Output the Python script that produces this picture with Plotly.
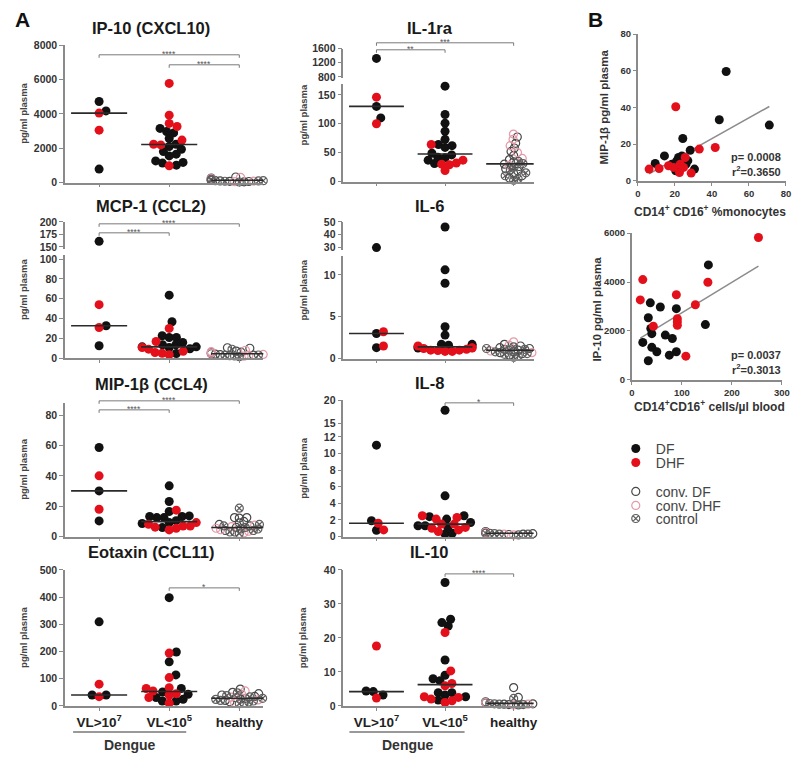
import math
import numpy as np
import plotly.graph_objects as go

# ===================== DATA =====================
CATEGORIES = ['VL&gt;10<sup>7</sup>', 'VL&lt;10<sup>5</sup>', 'healthy']

# IP-10 (CXCL10), pg/ml
ip10_hi_df = [4720, 4170, 780]
ip10_hi_dhf = [4040, 3050]
ip10_lo_df = [3150, 2890, 2970, 2560, 2100, 1800, 2230, 1940, 1650, 1260, 1130, 1010, 1170, 1550]
ip10_lo_dhf = [5770, 3920, 3440, 3260, 2470, 2230, 2190, 970]
ip10_h_cdf = [40, 70, 95, 120, 150, 180, 210, 260, 320, 110, 60, 140]
ip10_h_cdhf = [85, 130, 170, 230, 300, 50]
ip10_h_ctrl = [30, 75, 105, 160, 190, 250, 120, 90, 145]

# MCP-1 (CCL2)
mcp1_hi_df = [161, 32.7, 12.5]
mcp1_hi_dhf = [54, 31]
mcp1_lo_df = [63.6, 36.7, 20.9, 20.9, 22.6, 15.8, 11.4, 13.5, 10.8, 13.5, 11.4, 4.7, 9.5]
mcp1_lo_dhf = [30, 16.8, 10.8, 9.1, 5.7, 5, 7, 3.5]
mcp1_h_cdf = [10, 10.5, 7, 5.5, 4.5, 3.5, 3, 2.5, 6, 4]
mcp1_h_cdhf = [8, 5, 3.8, 2.8, 2, 6.5]
mcp1_h_ctrl = [9, 6, 4.8, 4.2, 3.2, 2.2, 1.5, 5.2, 3]

# MIP-1beta (CCL4)
mip_hi_df = [58.7, 30.1, 10.3]
mip_hi_dhf = [40, 18]
mip_lo_df = [33.4, 23.1, 16.5, 13.2, 12.5, 12.5, 13.2, 13.6, 8.6, 5.9, 9.2, 10.5]
mip_lo_dhf = [17.4, 9.2, 7, 5.5, 4.4, 7, 8.1, 6.2]
mip_h_cdf = [12.5, 12.5, 12.2, 10, 8, 7, 6, 5, 4, 3, 9]
mip_h_cdhf = [6.5, 5.5, 4.5, 3.5, 7.5, 2.5]
mip_h_ctrl = [18.7, 6, 5, 4, 7, 3, 8, 2]

# Eotaxin (CCL11)
eot_hi_df = [309, 40, 40]
eot_hi_dhf = [80, 34]
eot_lo_df = [398, 198, 162, 114, 64, 51, 43, 18, 18, 31, 24]
eot_lo_dhf = [194, 104, 64, 67, 55, 40, 31, 10, 45]
eot_h_cdf = [62, 50, 45, 40, 35, 30, 25, 20, 15, 10, 28]
eot_h_cdhf = [55, 42, 32, 22, 12]
eot_h_ctrl = [48, 38, 28, 20, 18, 14, 8, 24, 33]

# IL-1ra
il1_hi_df = [1320, 130, 110]
il1_hi_dhf = [146, 100]
il1_lo_df = [165, 116, 101, 87, 73, 64, 59, 62, 37, 46, 42, 41, 31, 49]
il1_lo_dhf = [64, 29, 19, 32, 30, 37]
il1_h_cdf = [77, 66, 58, 52, 45, 38, 34, 30, 26, 22, 18, 14, 10, 6]
il1_h_cdhf = [82, 73, 62, 50, 40, 28]
il1_h_ctrl = [35, 31, 25, 20, 15, 10, 5, 2]

# IL-6
il6_hi_df = [30, 3.0, 1.3]
il6_hi_dhf = [3.2, 1.5]
il6_lo_df = [46, 10.6, 9.0, 3.8, 2.8, 1.7, 1.25, 1.5, 1.7, 1.6, 1.4]
il6_lo_dhf = [1.5, 1.25, 1.0, 0.85, 0.85, 1.0, 1.1, 1.3, 0.95, 1.2]
il6_h_cdf = [1.7, 1.5, 1.3, 1.2, 1.0, 0.9, 0.8, 0.6, 0.4, 1.1, 0.7]
il6_h_cdhf = [2.0, 1.6, 1.2, 0.9, 0.7]
il6_h_ctrl = [1.4, 1.2, 1.0, 0.8, 0.6, 0.3, 0.15, 1.1, 0.5]

# IL-8
il8_hi_df = [11, 1.9, 0.76]
il8_hi_dhf = [1.6, 0.8]
il8_lo_df = [17.8, 4.9, 2.5, 2.1, 2.4, 1.3, 0.4, 0.3, 1.1, 1.3, 1.7]
il8_lo_dhf = [2.3, 2.1, 2.5, 1.1, 0.8, 0.6, 1.0, 1.5, 1.5]
il8_h_cdf = [0.5, 0.4, 0.3, 0.6, 0.35, 0.45, 0.25, 0.55, 0.4]
il8_h_cdhf = [0.4, 0.3, 0.5, 0.2, 0.45]
il8_h_ctrl = [0.3, 0.4, 0.5, 0.2, 0.35, 0.6, 0.45, 0.3]

# IL-10
il10_hi_df = [4.2, 4.4, 3.2]
il10_hi_dhf = [17.6, 2.3]
il10_lo_df = [36.3, 25.5, 23.5, 24.5, 13.5, 9.0, 8.0, 7.4, 3.9, 3.9, 2.7, 1.7, 3.2]
il10_lo_dhf = [21.6, 10.3, 6.6, 5.9, 2.0, 1.5, 2.5, 2.7, 1.0]
il10_h_cdf = [5.4, 2.5, 1.2, 1.0, 0.8, 0.6, 0.5, 0.4, 0.9]
il10_h_cdhf = [1.5, 1.0, 0.7, 0.5, 0.3]
il10_h_ctrl = [2.2, 1.1, 0.9, 0.7, 0.5, 0.4, 0.3, 0.6]

# Panel B: MIP-1beta vs CD14+CD16+ % monocytes
b1_df_x = [47.7, 71, 44, 24.3, 28.3, 14.4, 9.4, 30.6, 20.5, 22, 23.8, 26, 18.4, 21, 27]
b1_df_y = [59.6, 30.4, 33.3, 23.1, 16.7, 13.6, 9.5, 6.4, 5.5, 12.7, 13.6, 9.1, 9.1, 10.9, 11]
b1_dhf_x = [20.5, 41.8, 33.2, 6.1, 11.5, 28.8, 22.5, 25.6, 16.6, 19.3, 22.9, 24.7]
b1_dhf_y = [40.4, 18.2, 17.3, 6.4, 6.7, 4.2, 4.5, 12.7, 8.2, 7.3, 9.1, 7.3]
b1_stats = ['p= 0.0008', 'r<sup>2</sup>=0.3650']

# Panel B: IP-10 vs CD14+CD16+ cells/ul blood
b2_df_x = [153, 37, 57, 89, 33, 147, 38, 40, 22, 67, 81, 40, 50, 75, 89, 33]
b2_df_y = [4700, 3150, 2980, 2910, 2540, 2260, 2100, 1890, 1530, 1830, 1690, 1330, 1150, 1010, 1150, 780]
b2_dhf_x = [253, 22, 152, 17, 89, 127, 91, 91, 91, 43, 108]
b2_dhf_y = [5820, 4100, 3990, 3270, 3480, 3070, 2500, 2370, 2230, 2190, 970]
b2_stats = ['p= 0.0037', 'r<sup>2</sup>=0.3013']

# ===================== STYLE / LAYOUT =====================
W, H = 800, 757
FONT = 'Liberation Sans, Arial, sans-serif'
AX = '#8a8a8a'
TXT = '#333333'
BR = '#7a7a7a'
# screen-placement calibration (target pixel -> figure pixel)
SX, OX = 0.985, 10.0
SY, OY = 0.984, 13.2


def fx(p):
    return (p - OX) / SX / W


def fy(p):
    return 1 - (p - OY) / SY / H


def ann(x, y, text, size, color='#333', xanchor='center', yanchor='middle', angle=0, xref='paper'):
    return dict(xref=xref, yref='paper', x=x if xref != 'paper' else fx(x), y=fy(y), text=text,
                showarrow=False, xanchor=xanchor, yanchor=yanchor, textangle=angle,
                font=dict(family=FONT, size=size, color=color))


COLS = {'L': dict(x0=64, x1=262, c0=98, step=70.0, ylab=23, tx=150),
        'R': dict(x0=342, x1=532, c0=375, step=68.5, ylab=302, tx=428)}

STY = {
    'DF': dict(name='DF', symbol='circle', color='#111111', fill=True),
    'DHF': dict(name='DHF', symbol='circle', color='#e3101b', fill=True),
    'cDF': dict(name='conv. DF', symbol='circle-open', color='#484848', fill=False),
    'cDHF': dict(name='conv. DHF', symbol='circle-open', color='#e49aa8', fill=False),
    'ctrl': dict(name='control', symbol='circle-x-open', color='#5e5e5e', fill=False),
}
LEGENDS = {'DF': ('legend', 448), 'DHF': ('legend2', 462), 'cDF': ('legend3', 491),
           'cDHF': ('legend4', 505), 'ctrl': ('legend5', 518)}


def grp(df=None, dhf=None, cdf=None, cdhf=None, ctrl=None):
    g = {}
    for k, v in (('DF', df), ('DHF', dhf), ('cDF', cdf), ('cDHF', cdhf), ('ctrl', ctrl)):
        if v:
            g[k] = v
    return g


PANELS = [
    dict(title='IP-10 (CXCL10)', col='L', ty=27, bottom=False,
         segs=[(0, 8000, 181.7, 44.3, [0, 2000, 4000, 6000, 8000])],
         groups=[grp(ip10_hi_df, ip10_hi_dhf), grp(ip10_lo_df, ip10_lo_dhf),
                 grp(cdf=ip10_h_cdf, cdhf=ip10_h_cdhf, ctrl=ip10_h_ctrl)],
         brackets=[(0, 2, 54, '****'), (1, 2, 64, '****')]),
    dict(title='MCP-1 (CCL2)', col='L', ty=205, bottom=False,
         segs=[(0, 104, 357.3, 254.3, [0, 20, 40, 60, 80, 100]),
               (146, 200, 248, 221, [150, 175, 200])],
         groups=[grp(mcp1_hi_df, mcp1_hi_dhf), grp(mcp1_lo_df, mcp1_lo_dhf),
                 grp(cdf=mcp1_h_cdf, cdhf=mcp1_h_cdhf, ctrl=mcp1_h_ctrl)],
         brackets=[(0, 2, 223, '****'), (0, 1, 232, '****')]),
    dict(title='MIP-1β (CCL4)', col='L', ty=383, bottom=False,
         segs=[(0, 88, 535.7, 402.1, [0, 20, 40, 60, 80])],
         groups=[grp(mip_hi_df, mip_hi_dhf), grp(mip_lo_df, mip_lo_dhf),
                 grp(cdf=mip_h_cdf, cdhf=mip_h_cdhf, ctrl=mip_h_ctrl)],
         brackets=[(0, 2, 400, '****'), (0, 1, 409, '****')]),
    dict(title='Eotaxin (CCL11)', col='L', ty=551, bottom=True,
         segs=[(0, 500, 705, 569, [0, 100, 200, 300, 400, 500])],
         groups=[grp(eot_hi_df, eot_hi_dhf), grp(eot_lo_df, eot_lo_dhf),
                 grp(cdf=eot_h_cdf, cdhf=eot_h_cdhf, ctrl=eot_h_ctrl)],
         brackets=[(1, 2, 587, '*')]),
    dict(title='IL-1ra', col='R', ty=27, bottom=False,
         segs=[(0, 168, 180.7, 83.6, [0, 50, 100, 150]),
               (770, 1600, 77.1, 47.7, [800, 1200, 1600])],
         groups=[grp(il1_hi_df, il1_hi_dhf), grp(il1_lo_df, il1_lo_dhf),
                 grp(cdf=il1_h_cdf, cdhf=il1_h_cdhf, ctrl=il1_h_ctrl)],
         brackets=[(0, 2, 42, '***'), (0, 1, 49, '**')]),
    dict(title='IL-6', col='R', ty=205, bottom=False,
         segs=[(0, 12.2, 357.7, 255.6, [0, 5, 10]),
               (28, 50, 249.3, 221, [30, 40, 50])],
         groups=[grp(il6_hi_df, il6_hi_dhf), grp(il6_lo_df, il6_lo_dhf),
                 grp(cdf=il6_h_cdf, cdhf=il6_h_cdhf, ctrl=il6_h_ctrl)],
         brackets=[]),
    dict(title='IL-8', col='R', ty=382, bottom=False,
         segs=[(0, 12, 535.7, 436, [0, 2, 4, 6, 8, 10, 12]),
               (12, 20, 436, 399.3, [15, 20])],
         groups=[grp(il8_hi_df, il8_hi_dhf), grp(il8_lo_df, il8_lo_dhf),
                 grp(cdf=il8_h_cdf, cdhf=il8_h_cdhf, ctrl=il8_h_ctrl)],
         brackets=[(1, 2, 402, '*')]),
    dict(title='IL-10', col='R', ty=551, bottom=True,
         segs=[(0, 40, 705, 569, [0, 10, 20, 30, 40])],
         groups=[grp(il10_hi_df, il10_hi_dhf), grp(il10_lo_df, il10_lo_dhf),
                 grp(cdf=il10_h_cdf, cdhf=il10_h_cdhf, ctrl=il10_h_ctrl)],
         brackets=[(1, 2, 573, '****')]),
]


def seg_index(segs, v):
    if len(segs) == 1:
        return 0
    return 0 if v <= segs[0][1] else 1


def to_px(segs, v):
    vmin, vmax, pb, pt, _ = segs[seg_index(segs, v)]
    v = min(max(v, vmin), vmax)
    return pb + (v - vmin) / (vmax - vmin) * (pt - pb)


def swarm(ypx, diam, maxw):
    """Deterministic beeswarm: horizontal pixel offsets avoiding overlap."""
    ypx = np.asarray(ypx, float)
    order = np.argsort(-ypx, kind='stable')
    placed = []
    off = np.zeros(len(ypx))
    for i in order:
        y = ypx[i]
        cands = [0.0]
        for (px, py) in placed:
            dy = abs(py - y)
            if dy < diam:
                dx = math.sqrt(diam * diam - dy * dy)
                cands += [px + dx, px - dx]
        cands.sort(key=lambda c: (round(abs(c), 6), -c))
        chosen = 0.0
        for c in cands:
            if all((c - px) ** 2 + (y - py) ** 2 >= diam * diam - 1e-6 for px, py in placed):
                chosen = c
                break
        chosen = max(-maxw, min(maxw, chosen))
        placed.append((chosen, y))
        off[i] = chosen
    return off


def axname(kind, n):
    return f'{kind}axis' + ('' if n == 1 else str(n))


def ref(kind, n):
    return kind + ('' if n == 1 else str(n))


def marker_for(t):
    s = STY[t]
    if s['fill']:
        return dict(symbol='circle', size=9, color=s['color'], line=dict(width=0))
    return dict(symbol=s['symbol'], size=8, color=s['color'],
                line=dict(width=1.2, color=s['color']))


TICKFONT = dict(family=FONT, size=10.5, color=TXT, weight='bold')
BTICKFONT = dict(family=FONT, size=9.5, color=TXT, weight='bold')

fig = go.Figure()
layout = {}
shapes = []
annotations = []
legend_done = set()
nx = 0
ny = 0

for p in PANELS:
    col = COLS[p['col']]
    nx += 1
    xid = nx
    yids = []
    for _ in p['segs']:
        ny += 1
        yids.append(ny)
    xr = ref('x', xid)
    xaxis = dict(domain=[fx(col['x0']), fx(col['x1'])],
                 range=[(col['x0'] - col['c0']) / col['step'], (col['x1'] - col['c0']) / col['step']],
                 anchor=ref('y', yids[0]), showline=True, linecolor=AX, linewidth=1.6,
                 ticks='outside', ticklen=3, tickwidth=1.4, tickcolor=AX,
                 tickvals=[0, 1, 2], showticklabels=p['bottom'], showgrid=False, zeroline=False)
    if p['bottom']:
        xaxis.update(ticktext=CATEGORIES, tickfont=dict(family=FONT, size=13.5, color='#222', weight='bold'))
    layout[axname('x', xid)] = xaxis
    for s, yid in zip(p['segs'], yids):
        vmin, vmax, pb, pt, tv = s
        layout[axname('y', yid)] = dict(domain=[fy(pb), fy(pt)], range=[vmin, vmax], anchor=xr,
                                        showline=True, linecolor=AX, linewidth=1.6, ticks='outside',
                                        ticklen=4, tickwidth=1.4, tickcolor=AX, tickvals=tv,
                                        tickfont=TICKFONT, showgrid=False, zeroline=False)
    segs = p['segs']
    for gi, g in enumerate(p['groups']):
        vals, types = [], []
        for t, vs in g.items():
            vals += list(vs)
            types += [t] * len(vs)
        healthy = gi == 2
        ypx = [to_px(segs, v) for v in vals]
        off = swarm(ypx, 4.8 if healthy else 7.2, 28 if healthy else 27) / col['step']
        for t in g:
            idx = [k for k in range(len(vals)) if types[k] == t]
            for si in range(len(segs)):
                sel = [k for k in idx if seg_index(segs, vals[k]) == si]
                if not sel:
                    continue
                lg, _ = LEGENDS[t]
                show = t not in legend_done
                legend_done.add(t)
                fig.add_trace(go.Scatter(
                    x=[gi + off[k] for k in sel], y=[vals[k] for k in sel], mode='markers',
                    marker=marker_for(t), name=STY[t]['name'], legend=lg, showlegend=show,
                    xaxis=xr, yaxis=ref('y', yids[si]), cliponaxis=False, hoverinfo='y'))
        med = float(np.median(vals))
        si = seg_index(segs, med)
        fig.add_trace(go.Scatter(x=[gi - 0.4, gi + 0.4], y=[med, med], mode='lines',
                                 line=dict(color='#2a2a2a', width=1.6), showlegend=False,
                                 xaxis=xr, yaxis=ref('y', yids[si]), hoverinfo='skip',
                                 cliponaxis=False))
    # significance brackets
    for a, b, ypos, lab in p['brackets']:
        shapes.append(dict(type='line', xref=xr, yref='paper', x0=a, x1=b, y0=fy(ypos), y1=fy(ypos),
                           line=dict(color=BR, width=1)))
        for c in (a, b):
            shapes.append(dict(type='line', xref=xr, yref='paper', x0=c, x1=c, y0=fy(ypos),
                               y1=fy(ypos + 3), line=dict(color=BR, width=1)))
        annotations.append(ann((a + b) / 2, ypos - 1, lab, 8.5, '#555', xref=xr))
    # panel title
    annotations.append(ann(col['tx'], p['ty'], '<b>%s</b>' % p['title'], 16.5, '#1a1a1a'))
    # y label
    top_px = segs[-1][3]
    bot_px = segs[0][2]
    annotations.append(ann(col['ylab'], (top_px + bot_px) / 2, '<b>pg/ml plasma</b>', 9.5, '#444', angle=-90))

# Dengue bracket lines and labels
for x0, x1, xc in ((72, 185, 129), (348, 463, 406)):
    shapes.append(dict(type='line', xref='paper', yref='paper', x0=fx(x0), x1=fx(x1), y0=fy(731),
                       y1=fy(731), line=dict(color='#777', width=1.5)))
    annotations.append(ann(xc, 744, '<b>Dengue</b>', 14, '#333'))

# ===================== PANEL B =====================
BPANELS = [
    dict(xd=(636, 784), yd=(180, 33.3), xr=(0, 80), yr=(0, 80), xt=[0, 20, 40, 60, 80],
         yt=[0, 20, 40, 60, 80], dfx=b1_df_x, dfy=b1_df_y, dhfx=b1_dhf_x, dhfy=b1_dhf_y,
         stats=b1_stats, stat_y=(156.5, 170.5),
         xtitle='<b>CD14<sup>+</sup> CD16<sup>+</sup> %monocytes</b>', xtitle_y=210,
         ytitle='<b>MIP-1β pg/ml plasma</b>', ytitle_x=602, ytitle_y=106),
    dict(xd=(630, 780), yd=(379, 232.3), xr=(0, 300), yr=(0, 6000), xt=[0, 100, 200, 300],
         yt=[0, 2000, 4000, 6000], dfx=b2_df_x, dfy=b2_df_y, dhfx=b2_dhf_x, dhfy=b2_dhf_y,
         stats=b2_stats, stat_y=(354.5, 368.5),
         xtitle='<b>CD14<sup>+</sup>CD16<sup>+</sup> cells/µl blood</b>', xtitle_y=405,
         ytitle='<b>IP-10 pg/ml plasma</b>', ytitle_x=595, ytitle_y=308),
]

for bp in BPANELS:
    nx += 1
    ny += 1
    xr, yr = ref('x', nx), ref('y', ny)
    layout[axname('x', nx)] = dict(domain=[fx(bp['xd'][0]), fx(bp['xd'][1])], range=list(bp['xr']),
                                   anchor=yr, showline=True, linecolor=AX, linewidth=1.6,
                                   ticks='outside', ticklen=3, tickwidth=1.4, tickcolor=AX,
                                   tickvals=bp['xt'], tickfont=BTICKFONT, showgrid=False, zeroline=False)
    layout[axname('y', ny)] = dict(domain=[fy(bp['yd'][0]), fy(bp['yd'][1])], range=list(bp['yr']),
                                   anchor=xr, showline=True, linecolor=AX, linewidth=1.6,
                                   ticks='outside', ticklen=3, tickwidth=1.4, tickcolor=AX,
                                   tickvals=bp['yt'], tickfont=BTICKFONT, showgrid=False, zeroline=False)
    allx = np.array(bp['dfx'] + bp['dhfx'], float)
    ally = np.array(bp['dfy'] + bp['dhfy'], float)
    k, c = np.polyfit(allx, ally, 1)
    xl = np.array([allx.min(), allx.max()])
    fig.add_trace(go.Scatter(x=xl, y=k * xl + c, mode='lines', line=dict(color='#8c8c8c', width=1.5),
                             xaxis=xr, yaxis=yr, showlegend=False, hoverinfo='skip'))
    fig.add_trace(go.Scatter(x=bp['dfx'], y=bp['dfy'], mode='markers', marker=marker_for('DF'),
                             name='DF', legend='legend', showlegend=False, xaxis=xr, yaxis=yr,
                             cliponaxis=False))
    fig.add_trace(go.Scatter(x=bp['dhfx'], y=bp['dhfy'], mode='markers', marker=marker_for('DHF'),
                             name='DHF', legend='legend2', showlegend=False, xaxis=xr, yaxis=yr,
                             cliponaxis=False))
    for txt, ypos in zip(bp['stats'], bp['stat_y']):
        annotations.append(ann(781, ypos, '<b>%s</b>' % txt, 11, '#333', xanchor='right'))
    annotations.append(ann(708, bp['xtitle_y'], bp['xtitle'], 12, '#333'))
    annotations.append(ann(bp['ytitle_x'], bp['ytitle_y'], bp['ytitle'], 11.5, '#333', angle=-90))

# panel letters
annotations.append(ann(21, 19, '<b>A</b>', 21, '#111'))
annotations.append(ann(594, 19, '<b>B</b>', 21, '#111'))

for t, (lg, ypos) in LEGENDS.items():
    layout[lg] = dict(x=fx(614), y=fy(ypos), xanchor='left', yanchor='middle',
                      bgcolor='rgba(0,0,0,0)', borderwidth=0,
                      font=dict(family=FONT, size=14, color='#444'),
                      itemclick=False, itemdoubleclick=False)

fig.update_layout(width=W, height=H, margin=dict(l=0, r=0, t=0, b=0),
                  paper_bgcolor='white', plot_bgcolor='rgba(0,0,0,0)',
                  font=dict(family=FONT, color=TXT), shapes=shapes, annotations=annotations,
                  **layout)

fig.write_html('out.html')
